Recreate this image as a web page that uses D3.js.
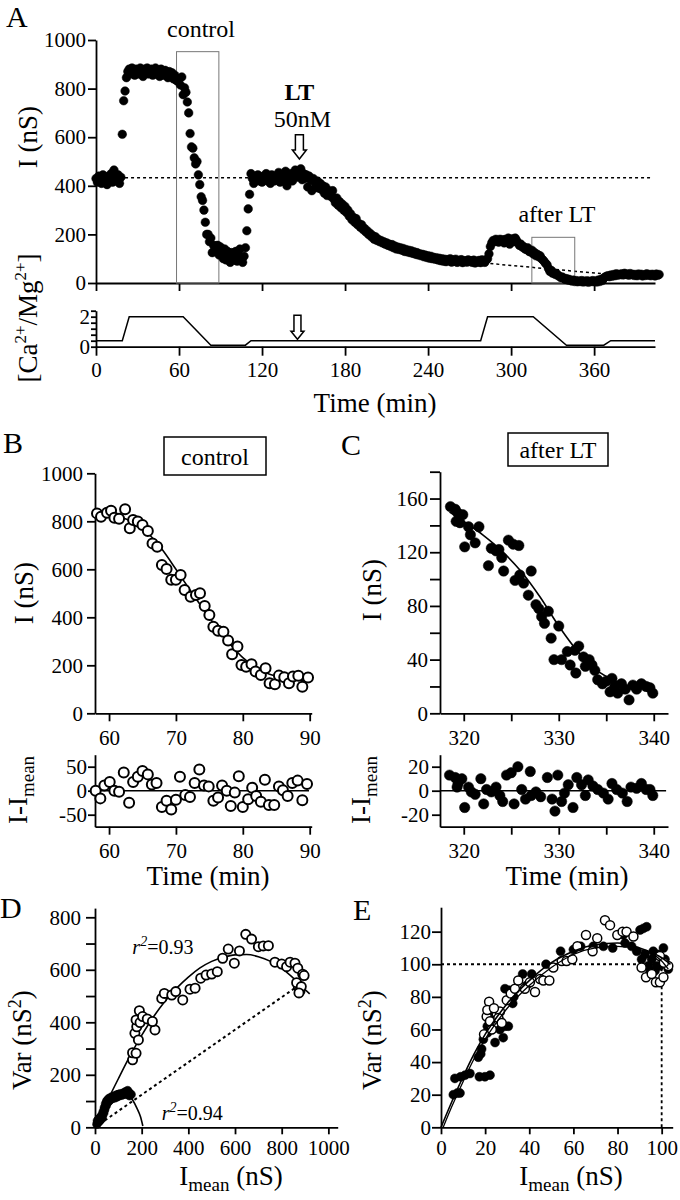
<!DOCTYPE html>
<html><head><meta charset="utf-8">
<script src="https://cdn.jsdelivr.net/npm/d3@7"></script>
<style>body{margin:0;background:#fff}</style>
</head><body><svg id="c" width="680" height="1200" style="background:#fff"></svg>
<script>
// ---------------- DATA ----------------
// Panel A: conductance sampled every aStep minutes starting at t=0
const aStep = 1;
const aI = [
430,415,440,425,410,445,420,435,405,440, 425,450,415,465,430,420,445,410,435,612,
750,790,845,870,880,860,885,870,855,880, 875,860,885,870,850,880,865,885,860,875,
880,855,870,885,860,875,850,880,870,855, 875,860,845,870,850,865,840,855,835,830,
840,815,848,775,803,785,745,700,615,560, 555,515,490,500,445,405,355,340,300,250,
200,200,170,185,125,155,130,153,155,115, 148,120,100,140,95,130,110,85,125,105,
95,130,90,115,140,100,85,110,145,215, 305,365,450,430,410,440,425,445,420,430,
415,440,425,450,420,435,410,445,430,420, 440,425,455,415,430,445,425,460,400,440,
430,450,420,445,465,435,455,440,470,425, 450,430,445,395,440,425,380,430,415,395,
420,390,410,385,400,370,395,360,380,375, 355,380,345,330,350,320,335,310,325,300,
315,290,300,275,285,260,270,250,265,240, 245,230,240,220,225,210,215,200,205,190,
195,180,190,175,180,170,175,165,170,160, 165,155,160,150,158,145,152,140,148,138,
145,135,142,130,138,128,135,125,132,122, 128,118,125,115,120,112,118,108,115,105,
112,102,110,100,106,98,104,95,102,92, 100,90,98,88,96,92,100,86,95,90,
98,85,93,88,96,84,92,90,86,95, 88,92,85,94,82,90,86,93,84,95,
90,85,95,100,120,150,165,175,170,180, 175,168,180,172,178,165,180,170,185,160,
178,182,170,185,175,165,155,160,148,150, 140,138,145,130,128,135,120,125,112,118,
108,112,100,95,88,80,75,60,48,52, 40,42,35,38,30,28,22,25,20,15,
18,12,15,10,8,12,6,10,5,8, 6,10,4,8,5,9,3,7,6,10,
5,8,4,12,6,15,10,20,25,28, 30,26,33,28,35,30,38,32,36,34,
38,33,40,35,37,32,39,34,36,31, 35,30,37,33,36,29,34,31,38,32,
35,30,36,33,29,37,32,35];
const aBaseline = [[21,433],[402,433]];
const aDecayLine = [[285,80],[372,35]];
const controlWin = [58.2, 88.8, 952];
const afterWin = [315, 346, 188];
const ltTime = 147;
const aXTicks = [0,60,120,180,240,300,360];
const aYTicks = [0,200,400,600,800,1000];
// Ca/Mg protocol trace
const caT = [0,19,24,63,83,108,112,278,283,316,340,367,372,404];
const caV = [0.4,0.4,2,2,0.1,0.1,0.4,0.4,2,2,0.1,0.1,0.4,0.4];
const caTicks = [0,0.4,0.8,1.2,1.6,2.0,2.4];

// Panel B (control) open circles [time, I]
const bPts = [[58.2,833],[58.8,819],[59.7,836],[60.3,844],[60.8,815],[61.5,811],[62.4,850],[63.1,771],[63.6,805],[64.3,799],[65.0,785],[65.8,760],[66.5,708],[67.2,694],[67.9,618],[68.6,601],[69.3,556],[70.0,556],[70.7,576],[71.3,514],[72.2,486],[73.0,493],[73.6,500],[74.3,447],[75.0,410],[75.6,361],[76.3,344],[77.1,340],[77.8,303],[78.4,246],[79.2,278],[79.8,201],[80.5,194],[81.3,204],[81.9,174],[82.7,160],[83.4,188],[84.0,125],[84.8,121],[85.4,157],[86.2,150],[86.9,125],[87.5,153],[88.3,156],[88.9,111],[89.75,149]];
const bFit = [[58,838],[60,830],[62,815],[64,790],[66,745],[68,680],[70,600],[72,518],[74,438],[76,362],[78,292],[80,232],[82,190],[84,163],[86,148],[88,140],[90,136]];
const bRes = [[58,0],[58.7,-16],[59.3,11],[60.1,18],[60.8,0],[61.5,-2],[62.2,38],[63.0,-25],[63.6,18],[64.3,29],[65.0,41],[65.8,34],[66.4,13],[67.1,16],[67.9,-34],[68.6,-21],[69.3,-39],[70.0,-19],[70.6,29],[71.4,-9],[72.1,-13],[72.8,16],[73.5,44],[74.2,11],[74.9,9],[75.6,-21],[76.3,-14],[76.9,11],[77.6,0],[78.2,-32],[78.8,-4],[79.4,30],[80.0,-34],[80.8,-18],[81.4,6],[82.0,-11],[82.7,-23],[83.3,23],[83.9,-30],[84.7,-30],[85.4,9],[86.0,1],[86.7,-11],[87.4,16],[88.2,21],[88.9,-20],[89.6,14]];
const bXTicks = [60,70,80,90];
const bYTicks = [0,200,400,600,800,1000];
const bResTicks = [-50,0,50];

// Panel C (after LT) closed circles [time, I]
const cPts = [[318.6,154],[319.1,152],[319.4,149],[319.9,148],[319.2,143],[319.6,142],[320.1,124],[320.5,139],[320.7,133],[321.2,127],[321.6,139],[322.6,110],[322.9,123],[323.4,121],[323.7,122],[324.0,116],[324.2,106],[324.7,129],[325.2,126],[325.8,125],[325.4,99],[325.9,103],[326.3,97],[326.8,88],[327.1,106],[327.6,81],[327.9,78],[328.2,72],[328.5,67],[328.9,76],[329.2,56],[330.0,65],[329.5,40],[330.3,40],[330.9,46],[331.2,36],[331.7,47],[331.8,30],[332.1,50],[332.6,42],[332.8,35],[333.2,40],[333.5,36],[333.8,32],[334.1,25],[334.6,22],[335.0,24],[335.4,16],[335.6,26],[335.9,20],[336.2,15],[336.6,22],[337.0,18],[337.4,10],[337.8,21],[338.2,18],[338.7,22],[339.2,20],[339.6,19],[339.9,15]];
const cFit = [[318.5,150],[320,143],[322,133],[324,121],[326,106],[328,87],[330,65],[332,46],[334,32],[336,24],[337,21]];
const cRes = [[318.5,13],[319.1,11],[319.4,6],[319.8,10],[319.3,3],[320.1,-14],[320.5,3],[320.8,-1],[321.2,-3],[321.8,10],[322.1,-11],[322.4,1],[322.9,-1],[323.4,3],[323.8,-4],[324.1,-9],[324.5,13],[325.0,15],[325.3,-11],[325.7,20],[326.1,1],[326.5,-7],[327.0,16],[327.1,-4],[327.6,-1],[328.1,-5],[328.8,11],[329.3,-7],[329.6,-17],[329.9,13],[330.3,-9],[330.6,-2],[331.0,5],[331.5,-14],[331.9,11],[332.4,5],[332.8,-4],[333.1,9],[333.6,4],[334.1,1],[334.7,-2],[335.2,-7],[335.6,6],[336.1,1],[336.7,-2],[337.2,-9],[337.6,3],[338.2,2],[338.7,6],[339.2,1],[339.6,1],[339.9,-4]];
const cXTicks = [320,325,330,335,340];
const cYTicks = [0,20,40,60,80,100,120,140,160,180];
const cResTicks = [-20,0,20];

// Panel D: variance vs mean [Imean, Var]
const dOpen = [[161,257],[161,284],[176,282],[171,358],[179,383],[190,444],[176,409],[193,399],[186,333],[204,422],[224,413],[257,371],[246,403],[286,491],[297,510],[329,504],[346,517],[376,485],[407,526],[429,530],[453,568],[476,580],[500,584],[524,593],[547,644],[571,679],[597,625],[619,672],[646,735],[671,717],[700,688],[721,691],[743,692],[771,629],[800,622],[821,612],[836,629],[857,625],[869,606],[890,583],[896,578],[871,536],[879,521],[864,551],[884,536],[874,512]];
const dClosed = [[8,12],[10,25],[12,18],[15,30],[18,22],[20,35],[22,28],[25,40],[28,32],[30,48],[32,42],[35,60],[38,55],[40,75],[42,68],[45,90],[48,82],[50,100],[52,92],[55,105],[58,98],[60,110],[65,104],[70,115],[75,110],[80,118],[85,112],[90,122],[95,116],[100,125],[105,120],[110,128],[115,122],[120,130],[125,126],[130,135],[135,130],[140,140],[145,132],[150,128],[148,120],[155,125],[138,125]];
const dFitOpen = [[0,0],[50,95],[100,185],[150,272],[200,350],[250,420],[300,480],[350,530],[400,572],[450,607],[500,632],[550,648],[600,657],[650,658],[700,650],[750,633],[800,605],[850,568],[900,525],[920,508]];
const dFitClosed = [[0,0],[20,48],[40,90],[60,116],[80,132],[100,140],[120,137],[140,126],[160,106],[180,72],[195,40],[205,5]];
const dDotted = [[0,0],[880,545]];
const dXTicks = [0,200,400,600,800,1000];
const dYTicks = [0,100,200,300,400,500,600,700,800];

// Panel E
const eClosed = [[5.6,20],[7.4,21],[8.6,21],[6.3,30],[8.9,31],[10.9,32],[13.1,33],[17.4,31],[19.9,31],[22.2,32],[16.9,43],[18.4,48],[19.2,54],[21.1,58],[22.7,66],[24.5,52],[26.7,60],[28.2,55],[29,62],[30.5,62],[29,85],[31.3,78],[32.5,76],[37,94],[41.1,94],[38.8,87],[47.6,100],[54.2,108],[60,109],[63.3,111],[69,111],[73.6,111],[77.8,110],[82.6,118],[83.4,113],[86.4,111],[90.2,121],[91.7,122],[93.2,123],[88.7,108],[90.9,103],[92.4,106],[93.9,99],[95.5,103],[97,96],[98.5,106],[99.2,99],[100.8,110],[101.5,103],[103,97],[96.2,108],[94.7,95],[97.7,99],[18,45],[21,62],[23,70],[27,65],[31,84],[33,80]];
const eOpen = [[21.8,77],[20.7,68],[22.2,65],[23,60],[19.5,57],[25.2,70],[26.7,71],[26,67],[27.5,64],[29.8,78],[31.6,82],[33.5,85],[35,90],[38,85],[40.3,89],[42.6,83],[44.9,91],[46.4,90],[49.1,90],[50.9,98],[54.7,102],[56.9,102],[59.5,103],[61.8,111],[65.7,118],[68.7,108],[70.8,116],[74.3,127],[76.6,124],[79.9,118],[82.3,120],[84.1,120],[87.2,117],[90.9,98],[92.9,92],[95.5,94],[97.4,89],[99.2,89],[100.8,92],[103,99],[99.2,105],[101,101],[21,72],[24,73]];
const eFitClosed = [[0,0],[5,16],[10,31],[15,45],[20,57],[25,67],[30,76],[40,90],[50,101],[60,108],[70,112],[80,113],[90,110],[100,104],[104,100]];
const eFitOpen = [[1,0],[5,13],[10,28],[15,42],[20,54],[25,64],[30,73],[40,87],[50,98],[60,106],[70,110],[80,111],[90,109],[100,102],[103,97]];
const eDotH = [[0,100],[100,100]];
const eDotV = [[100,0],[100,100]];
const eXTicks = [0,20,40,60,80,100];
const eYTicks = [0,20,40,60,80,100,120];

// ---------------- DRAWING ----------------
const SERIF = '"Liberation Serif","Times New Roman",Times,serif';
const svg = d3.select("#c");
const FT = 21, FL = 27;

function addAxis(gen, tx, ty, fs) {
  if (gen.tickFormat() === null) gen.tickFormat(d => String(d));
  const g = svg.append("g").attr("transform", `translate(${tx},${ty})`).call(gen);
  g.attr("font-size", fs || FT).attr("font-family", SERIF);
  g.selectAll(".domain, .tick line").attr("stroke", "#000").attr("stroke-width", 1.8);
  g.selectAll(".tick text").attr("fill", "#000");
  return g;
}
function rich(x, y, parts, opts = {}) {
  const t = svg.append("text").attr("font-family", SERIF).attr("fill", "#000")
    .attr("text-anchor", opts.anchor || "middle");
  if (opts.rot) t.attr("transform", `translate(${x},${y}) rotate(-90)`);
  else t.attr("x", x).attr("y", y);
  parts.forEach(p => {
    const s = t.append("tspan").text(p.t).attr("font-size", p.fs || FL);
    if (p.dy) s.attr("dy", p.dy);
    if (p.it) s.attr("font-style", "italic");
    if (p.b) s.attr("font-weight", "bold");
  });
  return t;
}
function line(data, x, y, opts = {}) {
  const gen = d3.line().x(d => x(d[0])).y(d => y(d[1]));
  if (opts.curve) gen.curve(opts.curve);
  svg.append("path").attr("d", gen(data)).attr("fill", "none")
    .attr("stroke", opts.color || "#000").attr("stroke-width", opts.w || 1.5)
    .attr("stroke-dasharray", opts.dash || null);
}
function dots(data, x, y, r, open, sw) {
  svg.append("g").selectAll("circle").data(data).join("circle")
    .attr("cx", d => x(d[0])).attr("cy", d => y(d[1])).attr("r", r)
    .attr("fill", open ? "#fff" : "#000").attr("stroke", "#000")
    .attr("stroke-width", open ? (sw || 2) : 0.5);
}
function hollowArrow(cx, yTop, yTip, sw, hw, hh) {
  const p = `M${cx - sw/2},${yTop}H${cx + sw/2}V${yTip - hh}H${cx + hw/2}L${cx},${yTip}L${cx - hw/2},${yTip - hh}H${cx - sw/2}Z`;
  svg.append("path").attr("d", p).attr("fill", "#fff").attr("stroke", "#000").attr("stroke-width", 1.5);
}

// ===== Panel A =====
const xA = d3.scaleLinear().domain([0, 404]).range([96, 655]);
const yA = d3.scaleLinear().domain([0, 1000]).range([283, 40]);
const aPts = aI.map((v, i) => [i * aStep, v]);

addAxis(d3.axisLeft(yA).tickValues(aYTicks).tickSize(8).tickPadding(2).tickSizeOuter(0), 96, 0);
addAxis(d3.axisBottom(xA).tickValues(aXTicks).tickSize(8).tickFormat("").tickSizeOuter(0), 0, 283);

line(aBaseline, xA, yA, {dash: "3,3", w: 1.5});
line(aDecayLine, xA, yA, {dash: "3,3", w: 1.5});
svg.append("rect").attr("x", xA(controlWin[0])).attr("y", yA(controlWin[2]))
  .attr("width", xA(controlWin[1]) - xA(controlWin[0])).attr("height", yA(0) - yA(controlWin[2]))
  .attr("fill", "none").attr("stroke", "#777").attr("stroke-width", 1);
svg.append("rect").attr("x", xA(afterWin[0])).attr("y", yA(afterWin[2]))
  .attr("width", xA(afterWin[1]) - xA(afterWin[0])).attr("height", yA(0) - yA(afterWin[2]))
  .attr("fill", "none").attr("stroke", "#777").attr("stroke-width", 1);
dots(aPts, xA, yA, 4.3, false);

rich(201, 37, [{t: "control", fs: 24}]);
rich(557, 222, [{t: "after LT", fs: 24}]);
rich(xA(ltTime), 100, [{t: "LT", fs: 24, b: true}]);
rich(xA(ltTime) + 3, 127, [{t: "50nM", fs: 24}]);
hollowArrow(xA(ltTime), yA(610), yA(510), 8, 14, 9);
rich(37, 137, [{t: "I (nS)"}], {rot: true});
rich(6, 27, [{t: "A", fs: 30}], {anchor: "start"});

// Ca/Mg protocol
const yCa = d3.scaleLinear().domain([0, 2.4]).range([346.7, 310.7]);
addAxis(d3.axisLeft(yCa).tickValues(caTicks).tickSize(5).tickPadding(1).tickSizeOuter(0)
  .tickFormat(d => (d === 0 ? "0" : Math.abs(d - 2) < 1e-6 ? "2" : "")), 96, 0);
addAxis(d3.axisBottom(xA).tickValues(aXTicks).tickSize(9).tickPadding(6).tickSizeOuter(0), 0, 346.7);
line(caT.map((t, i) => [t, caV[i]]), xA, yCa, {w: 1.5});
hollowArrow(xA(145.6), yCa(2.1), yCa(0.5), 7, 13, 8);
rich(37, 318, [{t: "[Ca"}, {t: "2+", fs: 17, dy: -11}, {t: "/Mg", dy: 11}, {t: "2+", fs: 17, dy: -11}, {t: "]", dy: 11}], {rot: true});
rich(375, 412, [{t: "Time (min)"}]);

// ===== Panel B =====
const xB = d3.scaleLinear().domain([57.9, 90.3]).range([95, 311.7]);
const yB = d3.scaleLinear().domain([0, 1000]).range([713.3, 473.3]);
addAxis(d3.axisLeft(yB).tickValues(bYTicks).tickSize(8).tickPadding(4).tickSizeOuter(0), 95, 0);
addAxis(d3.axisBottom(xB).tickValues(bXTicks).tickSize(8).tickPadding(9).tickSizeOuter(0), 0, 713.3);
line(bFit, xB, yB, {curve: d3.curveMonotoneX, w: 1.6});
dots(bPts, xB, yB, 5, true, 2);
svg.append("rect").attr("x", 164).attr("y", 437).attr("width", 102).attr("height", 38)
  .attr("fill", "none").attr("stroke", "#000").attr("stroke-width", 1.5);
rich(215, 465, [{t: "control", fs: 24}]);
rich(3, 453, [{t: "B", fs: 30}], {anchor: "start"});
rich(33, 593, [{t: "I (nS)"}], {rot: true});

const yBr = d3.scaleLinear().domain([-75, 75]).range([826.7, 754.7]);
addAxis(d3.axisLeft(yBr).tickValues(bResTicks).tickSize(7).tickPadding(1).tickSizeOuter(0), 95, 0);
addAxis(d3.axisBottom(xB).tickValues(bXTicks).tickSize(8).tickPadding(8).tickSizeOuter(0), 0, 826.7);
line([[57.9, 0], [89.9, 0]], xB, yBr, {w: 1.6});
dots(bRes, xB, yBr, 5, true, 2);
rich(27, 790, [{t: "I-I"}, {t: "mean", fs: 19, dy: 7}], {rot: true});
rich(208, 885, [{t: "Time (min)"}]);

// ===== Panel C =====
const xC = d3.scaleLinear().domain([317.5, 341.5]).range([440, 668]);
const yC = d3.scaleLinear().domain([0, 180]).range([713.3, 471.7]);
addAxis(d3.axisLeft(yC).tickValues(cYTicks).tickSize(10).tickPadding(2).tickSizeOuter(0)
  .tickFormat(d => (d % 40 === 0 ? String(d) : "")), 440, 0);
addAxis(d3.axisBottom(xC).tickValues(cXTicks).tickSize(8).tickPadding(9).tickSizeOuter(0)
  .tickFormat(d => (d % 10 === 0 ? String(d) : "")), 0, 713.3);
line(cFit, xC, yC, {curve: d3.curveMonotoneX, w: 1.6});
dots(cPts, xC, yC, 5.2, false);
svg.append("rect").attr("x", 508).attr("y", 433).attr("width", 100).attr("height", 33)
  .attr("fill", "none").attr("stroke", "#000").attr("stroke-width", 1.5);
rich(558, 458, [{t: "after LT", fs: 24}]);
rich(341, 455, [{t: "C", fs: 30}], {anchor: "start"});
rich(381, 590, [{t: "I (nS)"}], {rot: true});

const yCr = d3.scaleLinear().domain([-30, 30]).range([826.7, 754.7]);
addAxis(d3.axisLeft(yCr).tickValues(cResTicks).tickSize(8).tickPadding(3).tickSizeOuter(0), 440, 0);
addAxis(d3.axisBottom(xC).tickValues(cXTicks).tickSize(8).tickPadding(8).tickSizeOuter(0)
  .tickFormat(d => (d % 10 === 0 ? String(d) : "")), 0, 826.7);
line([[317.5, 0], [341.3, 0]], xC, yCr, {w: 1.6});
dots(cRes, xC, yCr, 5.2, false);
rich(370, 790, [{t: "I-I"}, {t: "mean", fs: 19, dy: 7}], {rot: true});
rich(567, 885, [{t: "Time (min)"}]);

// ===== Panel D =====
const xD = d3.scaleLinear().domain([0, 1040]).range([95, 337.7]);
const yD = d3.scaleLinear().domain([0, 835]).range([1127.3, 908.1]);
addAxis(d3.axisLeft(yD).tickValues(dYTicks).tickSize(9).tickPadding(5).tickSizeOuter(0)
  .tickFormat(d => (d % 200 === 0 ? String(d) : "")), 95, 0);
addAxis(d3.axisBottom(xD).tickValues(dXTicks).tickSize(7).tickPadding(6).tickSizeOuter(0), 0, 1127.3);
line(dDotted, xD, yD, {dash: "3,3", w: 2});
dots(dClosed, xD, yD, 4.3, false);
line(dFitOpen, xD, yD, {curve: d3.curveMonotoneX, w: 1.6});
line(dFitClosed, xD, yD, {curve: d3.curveMonotoneX, w: 1.6});
dots(dOpen, xD, yD, 4.6, true, 1.8);
rich(xD(160), yD(660), [{t: "r", it: true, fs: 20}, {t: "2", fs: 14, dy: -8, it: true}, {t: "=0.93", fs: 20, dy: 8}], {anchor: "start"});
rich(xD(286), yD(28), [{t: "r", it: true, fs: 20}, {t: "2", fs: 14, dy: -8, it: true}, {t: "=0.94", fs: 20, dy: 8}], {anchor: "start"});
rich(0, 918, [{t: "D", fs: 30}], {anchor: "start"});
rich(31, 1040, [{t: "Var (nS"}, {t: "2", fs: 18, dy: -10}, {t: ")", dy: 10}], {rot: true});
rich(231, 1185, [{t: "I"}, {t: "mean", fs: 19, dy: 6}, {t: " (nS)", dy: -6}]);

// ===== Panel E =====
const xE = d3.scaleLinear().domain([0, 105]).range([441, 672.7]);
const yE = d3.scaleLinear().domain([0, 135]).range([1127.3, 907.2]);
addAxis(d3.axisLeft(yE).tickValues(eYTicks).tickSize(9).tickPadding(1).tickSizeOuter(0), 441, 0);
addAxis(d3.axisBottom(xE).tickValues(eXTicks).tickSize(7).tickPadding(6).tickSizeOuter(0), 0, 1127.3);
line(eDotH, xE, yE, {dash: "3,3", w: 1.8});
line(eDotV, xE, yE, {dash: "3,3", w: 1.8});
dots(eClosed, xE, yE, 4.5, false);
dots(eOpen, xE, yE, 4.5, true, 1.5);
line(eFitClosed, xE, yE, {curve: d3.curveMonotoneX, w: 1.6});
line(eFitOpen, xE, yE, {curve: d3.curveMonotoneX, w: 1.3});
rich(353, 920, [{t: "E", fs: 30}], {anchor: "start"});
rich(381, 1040, [{t: "Var (nS"}, {t: "2", fs: 18, dy: -10}, {t: ")", dy: 10}], {rot: true});
rich(571, 1185, [{t: "I"}, {t: "mean", fs: 19, dy: 6}, {t: " (nS)", dy: -6}]);
</script>
</body></html>
